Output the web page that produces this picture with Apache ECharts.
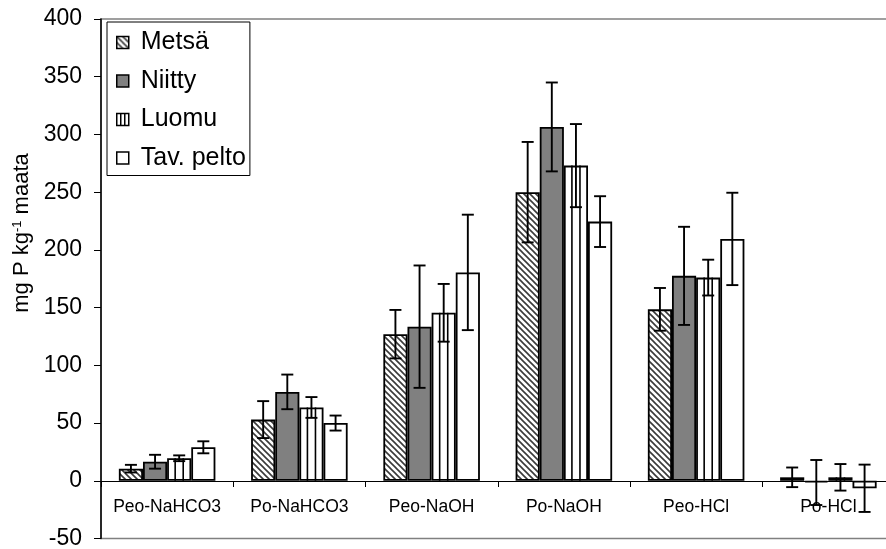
<!DOCTYPE html>
<html>
<head>
<meta charset="utf-8">
<script src="https://cdn.jsdelivr.net/npm/echarts@6/dist/echarts.min.js"></script>
<style>html,body{margin:0;padding:0;background:#fff;}#c{width:886px;height:549px;}</style>
</head>
<body>
<div id="c"></div>
<script>
const categories = ['Peo-NaHCO3', 'Po-NaHCO3', 'Peo-NaOH', 'Po-NaOH', 'Peo-HCl', 'Po-HCl'];
const seriesNames = ['Metsä', 'Niitty', 'Luomu', 'Tav. pelto'];
const metsa = [10.5, 53, 127, 250, 148.5, 3];
const metsaErr = [3.3, 16, 21, 43.5, 18.5, 8.5];
const niitty = [16.5, 77, 133.5, 306.5, 177.5, -1.5];
const niittyErr = [6, 15, 53, 38.5, 42.5, 19.5];
const luomu = [19.5, 63.5, 145.5, 273, 176, 3];
const luomuErr = [2.5, 9, 25, 36, 15.5, 11.5];
const tav = [29, 50, 180.5, 224.5, 209.5, -6.5];
const tavErr = [5.2, 6.5, 50, 22, 40, 20.5];
const yTicks = { min: -50, max: 400, interval: 50 };

const values = [metsa, niitty, luomu, tav];
const errors = [metsaErr, niittyErr, luomuErr, tavErr];

function hatchPattern() {
  const c = document.createElement('canvas');
  c.width = 6; c.height = 6;
  const ctx = c.getContext('2d');
  ctx.fillStyle = '#fff'; ctx.fillRect(0, 0, 6, 6);
  ctx.strokeStyle = '#3a3a3a'; ctx.lineWidth = 1.6;
  ctx.beginPath();
  ctx.moveTo(-1, -1); ctx.lineTo(7, 7);
  ctx.moveTo(-1, 5); ctx.lineTo(1, 7);
  ctx.moveTo(5, -1); ctx.lineTo(7, 1);
  ctx.stroke();
  return c;
}
const fills = [
  { image: hatchPattern(), repeat: 'repeat' },
  '#808080',
  '#ffffff',
  '#ffffff'
];
const legendIcons = ['rect', 'rect', 'path://M0,0L12,0L12,12L0,12ZM4,0L4,12M8,0L8,12', 'rect'];

const CAT_GAP = 0.27;
const errData = [];
for (let s = 0; s < 4; s++) {
  for (let i = 0; i < categories.length; i++) {
    errData.push([i, s, values[s][i], errors[s][i]]);
  }
}

function renderErr(params, api) {
  const cat = api.value(0), s = api.value(1), v = api.value(2), e = api.value(3);
  const bandW = api.size([1, 0])[0];
  const barW = bandW * (1 - CAT_GAP) / 4;
  const c = api.coord([cat, v]);
  const x = c[0] + (s - 1.5) * barW;
  const yt = api.coord([cat, v + e])[1];
  const yb = api.coord([cat, v - e])[1];
  const y0 = api.coord([cat, 0])[1];
  const cap = 6;
  const st = { stroke: '#000', lineWidth: 1.9 };
  const children = [];
  if (s === 2) {
    // vertical stripes of the Luomu fill
    const sst = { stroke: '#000', lineWidth: 1.6 };
    children.push({ type: 'line', shape: { x1: x - barW / 6, y1: c[1], x2: x - barW / 6, y2: y0 }, style: sst });
    children.push({ type: 'line', shape: { x1: x + barW / 6, y1: c[1], x2: x + barW / 6, y2: y0 }, style: sst });
  }
  children.push({ type: 'line', shape: { x1: x, y1: yt, x2: x, y2: yb }, style: st });
  children.push({ type: 'line', shape: { x1: x - cap, y1: yt, x2: x + cap, y2: yt }, style: st });
  children.push({ type: 'line', shape: { x1: x - cap, y1: yb, x2: x + cap, y2: yb }, style: st });
  return { type: 'group', children: children };
}

const barSeries = seriesNames.map((name, s) => ({
  name: name,
  type: 'bar',
  data: values[s],
  barGap: '0%',
  barCategoryGap: (CAT_GAP * 100) + '%',
  itemStyle: { color: fills[s], borderColor: '#000', borderWidth: 1.8 },
  emphasis: { disabled: true },
  z: 2
}));

const chart = echarts.init(document.getElementById('c'), null, { renderer: 'canvas' });
chart.setOption({
  animation: false,
  backgroundColor: '#fff',
  textStyle: { fontFamily: 'Liberation Sans, Arial, sans-serif', color: '#000' },
  grid: {
    left: 101, top: 19, bottom: 10.5, right: -8.5,
    containLabel: false,
    outerBoundsMode: 'none',
    show: true, borderColor: '#808080', borderWidth: 1.5, backgroundColor: 'transparent'
  },
  legend: {
    orient: 'vertical',
    left: 107, top: 22,
    data: seriesNames.map((n, s) => ({ name: n, icon: legendIcons[s] })),
    itemWidth: 12, itemHeight: 12,
    itemGap: 13.5,
    padding: [8, 4, 5, 9],
    borderColor: '#000', borderWidth: 1,
    backgroundColor: '#fff',
    selectedMode: false,
    itemStyle: { borderColor: '#000', borderWidth: 1.5 },
    textStyle: { fontSize: 25, lineHeight: 25, color: '#000', fontFamily: 'Liberation Sans, Arial, sans-serif', padding: [0, 0, 0, 7] }
  },
  xAxis: {
    type: 'category',
    data: categories,
    position: 'bottom',
    offset: -57.5,
    axisLine: { onZero: false, lineStyle: { color: '#000', width: 1.2 } },
    axisTick: { show: true, length: 6, lineStyle: { color: '#000' } },
    axisLabel: { fontSize: 17.5, color: '#000', margin: 17, interval: 0 },
    splitLine: { show: false }
  },
  yAxis: {
    type: 'value',
    min: yTicks.min, max: yTicks.max, interval: yTicks.interval,
    axisLine: { show: true, onZero: false, lineStyle: { color: '#000', width: 1.5 } },
    axisTick: { show: true, length: 7, lineStyle: { color: '#000' } },
    axisLabel: { fontSize: 23, color: '#000', margin: 19 },
    splitLine: { show: false }
  },
  graphic: [{
    type: 'text',
    x: 22, y: 233,
    rotation: Math.PI / 2,
    style: {
      text: 'mg P kg{sup|-1} maata',
      fontSize: 22,
      fontFamily: 'Liberation Sans, Arial, sans-serif',
      fill: '#000',
      align: 'center',
      verticalAlign: 'middle',
      rich: { sup: { fontSize: 13, verticalAlign: 'top', lineHeight: 22, fill: '#000' } }
    }
  }],
  series: barSeries.concat([{
    type: 'custom',
    name: 'err',
    renderItem: renderErr,
    data: errData,
    z: 5,
    clip: false,
    silent: true,
    encode: { x: 0, y: 2 }
  }])
});
</script>
</body>
</html>
